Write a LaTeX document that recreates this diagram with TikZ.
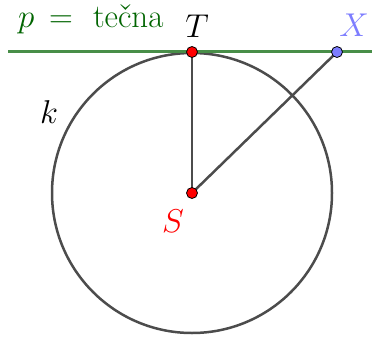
\RequirePackage{fix-cm}
\documentclass[tikz,border=0pt]{standalone}
\begin{document}
\begin{tikzpicture}[x=1pt,y=-1pt,
  pt/.style={circle,draw=black,line width=0.8pt,inner sep=0pt,minimum size=11pt},
  seg/.style={draw=black!70,line width=2.5pt},
  lbl/.style={font=\fontsize{33}{39}\selectfont,inner sep=0pt,anchor=base}]
\useasboundingbox (0,0) rectangle (372,337);
\definecolor{lgreen}{RGB}{72,142,72}
\definecolor{dgreen}{RGB}{0,100,0}
\definecolor{lblue}{RGB}{125,125,255}
\coordinate (S) at (192,193);
\coordinate (T) at (192,52);
\coordinate (X) at (337,52);
\coordinate (pl) at (8,52);
\coordinate (pr) at (372,52);
\draw[seg] (S) circle[radius=140];
\draw[lgreen,line width=3pt] (pl) -- (pr);
\draw[seg] (S) -- (T);
\draw[seg] (S) -- (X);
\node[pt,fill=red] (nS) at (S) {};
\node[pt,fill=red] (nT) at (T) {};
\node[pt,fill=lblue] (nX) at (X) {};
\node[lbl,text=dgreen,anchor=base west] (lp) at (18,28) {$p\,=\,\mbox{\,te\v{c}na}$};
\node[lbl] (lT) at (197,38) {$T$};
\node[lbl,text=lblue] (lX) at (354,37) {$X$};
\node[lbl] (lk) at (49,123) {$k$};
\node[lbl,text=red] (lS) at (173,232) {$S$};
\end{tikzpicture}
\end{document}
